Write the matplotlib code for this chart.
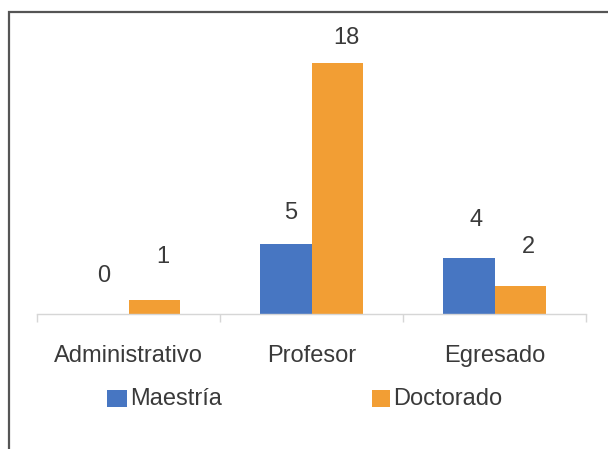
import matplotlib
matplotlib.use("Agg")
import matplotlib.pyplot as plt
from matplotlib.patches import Rectangle
from matplotlib.lines import Line2D
import numpy as np

# Chart data
categories = ['Administrativo', 'Profesor', 'Egresado']
series_names = ['Maestría', 'Doctorado']
maestria = [0, 5, 4]
doctorado = [1, 18, 2]

# Label nudges in pixels (dx, dy above bar top), as placed in the original
label_nudge_m = [(1, 38), (5, 31), (8, 38)]
label_nudge_d = [(8, 43), (9, 25), (8, 39)]

BLUE = '#4776C2'
ORANGE = '#F29E34'
TEXT = '#3a3a3a'
W, H = 608, 449

plt.rcParams['font.family'] = ['Liberation Sans', 'DejaVu Sans']

fig = plt.figure(figsize=(W / 100, H / 100), dpi=100)
ax = fig.add_axes([37 / W, (H - 314) / H, 549 / W, (314 - 12) / H])

x = np.arange(len(categories))
bw = 0.284
bars_m = ax.bar(x - bw / 2, maestria, bw, color=BLUE, label=series_names[0])
bars_d = ax.bar(x + bw / 2, doctorado, bw, color=ORANGE, label=series_names[1])

ax.set_xlim(-0.5, 2.5)
ax.set_ylim(0, (314 - 12) / 13.94)

# value labels
pt = 72 / 100
for bars, vals, nudges in [(bars_m, maestria, label_nudge_m), (bars_d, doctorado, label_nudge_d)]:
    for b, v, (dx, dy) in zip(bars, vals, nudges):
        ax.annotate(str(v), (b.get_x() + b.get_width() / 2, v),
                    xytext=(dx * pt, dy * pt), textcoords='offset points',
                    ha='center', va='center', fontsize=17, color=TEXT)

# axis styling
for s in ['top', 'right', 'left']:
    ax.spines[s].set_visible(False)
ax.spines['bottom'].set_color('#d6d6d6')
ax.spines['bottom'].set_linewidth(1.0)
ax.set_yticks([])
ax.set_xticks(x)
ax.set_xticklabels([])
ax.tick_params(axis='x', which='major', length=0)
ax.set_xticks(np.arange(-0.5, 3, 1), minor=True)
ax.tick_params(axis='x', which='minor', length=8 * pt, color='#d6d6d6', width=1.0)

# category labels
for xi, c in zip(x, categories):
    ax.annotate(c, (xi, 0), xycoords=('data', 'axes fraction'),
                xytext=(0, -48 * pt), textcoords='offset points',
                ha='center', va='baseline', fontsize=17, color=TEXT)

# legend drawn by hand to match placement
def fx(px):
    return px / W

def fy(py):
    return 1 - py / H

legend_items = [(107, 20, BLUE, 130, series_names[0]),
                (372, 18, ORANGE, 393, series_names[1])]
for sx, sw, col, tx, name in legend_items:
    fig.add_artist(Rectangle((fx(sx), fy(407)), sw / W, 17 / H,
                             transform=fig.transFigure, color=col, lw=0))
    fig.text(fx(tx), fy(405), name, ha='left', va='baseline',
             fontsize=17, color=TEXT)

# outer frame (top and left edges only)
fig.add_artist(Line2D([fx(9), fx(9), fx(608)], [fy(449), fy(12), fy(12)],
                      transform=fig.transFigure, color='#555555', lw=1.6,
                      solid_joinstyle='miter'))

fig.savefig('out.png', dpi=100)
